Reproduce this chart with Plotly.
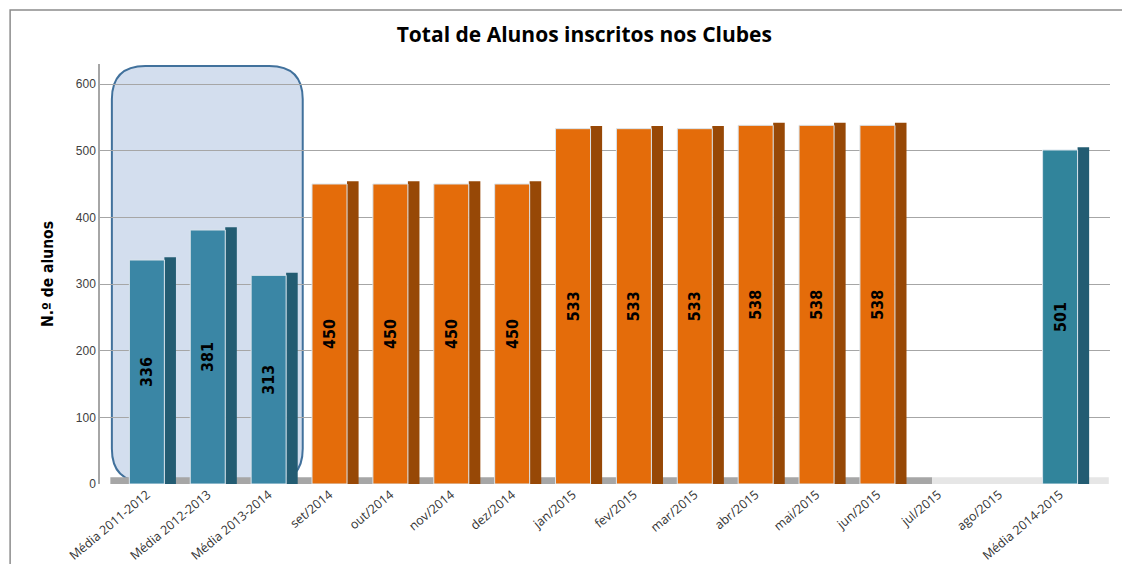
import plotly.graph_objects as go

categories = ["Média 2011-2012", "Média 2012-2013", "Média 2013-2014",
              "set/2014", "out/2014", "nov/2014", "dez/2014",
              "jan/2015", "fev/2015", "mar/2015", "abr/2015", "mai/2015", "jun/2015",
              "jul/2015", "ago/2015", "Média 2014-2015"]
values = [336, 381, 313, 450, 450, 450, 450, 533, 533, 533, 538, 538, 538, None, None, 501]
kinds = ["avg", "avg", "avg"] + ["month"] * 12 + ["avg"]
y_ticks = [0, 100, 200, 300, 400, 500, 600]

front_col = {"avg": "#3A86A5", "month": "#E46C0A"}
side_col = {"avg": "#235C72", "month": "#974806"}
front_col_last = "#31849B"

fronts = [front_col[k] for k in kinds]
fronts[-1] = front_col_last
sides = [side_col[k] for k in kinds]
xs = list(range(len(categories)))
labels = ["" if v is None else str(v) for v in values]

W = 0.575
fig = go.Figure()
# side faces (pseudo 3D)
fig.add_trace(go.Bar(x=xs, y=[None if v is None else v + 4 for v in values], width=0.19, offset=W / 2,
                     marker=dict(color=sides, line=dict(width=0)), hoverinfo="skip", showlegend=False))
# front faces
fig.add_trace(go.Bar(x=xs, y=values, width=W, offset=-W / 2,
                     marker=dict(color=fronts, line=dict(color="#D9E4EC", width=1)),
                     text=labels, textposition="inside", insidetextanchor="middle", textangle=-90,
                     textfont=dict(family="DejaVu Sans Condensed, Liberation Sans Narrow, sans-serif",
                                   size=16, color="black", weight="bold"),
                     showlegend=False))

# rounded highlight box behind first three bars
x0, x1, y0, y1 = -0.575, 2.56, 3, 627
rx, ry = 0.55, 50
path = (f"M {x0+rx},{y0} L {x1-rx},{y0} Q {x1},{y0} {x1},{y0+ry} L {x1},{y1-ry} Q {x1},{y1} {x1-rx},{y1} "
        f"L {x0+rx},{y1} Q {x0},{y1} {x0},{y1-ry} L {x0},{y0+ry} Q {x0},{y0} {x0+rx},{y0} Z")
fig.add_shape(type="path", path=path, xref="x", yref="y", layer="below",
              fillcolor="#D3DEEE", line=dict(color="#41719C", width=2))
# floor
fig.add_shape(type="rect", xref="x", yref="y", x0=-0.6, x1=12.9, y0=0, y1=10, layer="below",
              fillcolor="#A6A6A6", line=dict(width=0))
fig.add_shape(type="rect", xref="x", yref="y", x0=12.9, x1=15.8, y0=0, y1=10, layer="below",
              fillcolor="#E6E6E6", line=dict(width=0))
# outer frame (plot area spans 100..1110 px horizontally, 64..484 px vertically)
fig.add_shape(type="rect", xref="paper", yref="paper", x0=-0.089, x1=1.05, y0=-0.3, y1=(484 - 10) / 420,
              line=dict(color="#8C8C8C", width=1.5))

fig.update_layout(
    width=1130, height=564,
    margin=dict(l=92, r=28, t=56, b=88, autoexpand=False),
    paper_bgcolor="white", plot_bgcolor="white",
    barmode="overlay",
    title=dict(text="<b>Total de Alunos inscritos nos Clubes</b>", x=0.51, xanchor="center",
               y=1 - 27 / 564, yanchor="middle",
               font=dict(family="Open Sans, Liberation Sans, sans-serif", size=21, color="black")),
    font=dict(family="Liberation Sans, Arial, sans-serif", color="#404040"),
)
fig.update_xaxes(tickmode="array", tickvals=xs, ticktext=categories, tickangle=-40, automargin=False,
                 range=[-0.77, 15.82], showgrid=False, zeroline=False, showline=False,
                 tickfont=dict(size=12.5, color="#333333", family="Open Sans, Liberation Sans, sans-serif"), ticks="")
fig.update_yaxes(range=[0, 630], tickmode="array", tickvals=y_ticks, showgrid=True, gridcolor="#A6A6A6", gridwidth=1,
                 zeroline=False, showline=True, linecolor="#A6A6A6", linewidth=1.5, automargin=False,
                 tickfont=dict(size=12, color="#404040", family="Liberation Sans, sans-serif"),
                 title=dict(text="<b>N.º de alunos</b>", standoff=18,
                            font=dict(size=15.5, color="black", family="DejaVu Sans Condensed, Liberation Sans Narrow, sans-serif")))

fig.write_html("out.html")
